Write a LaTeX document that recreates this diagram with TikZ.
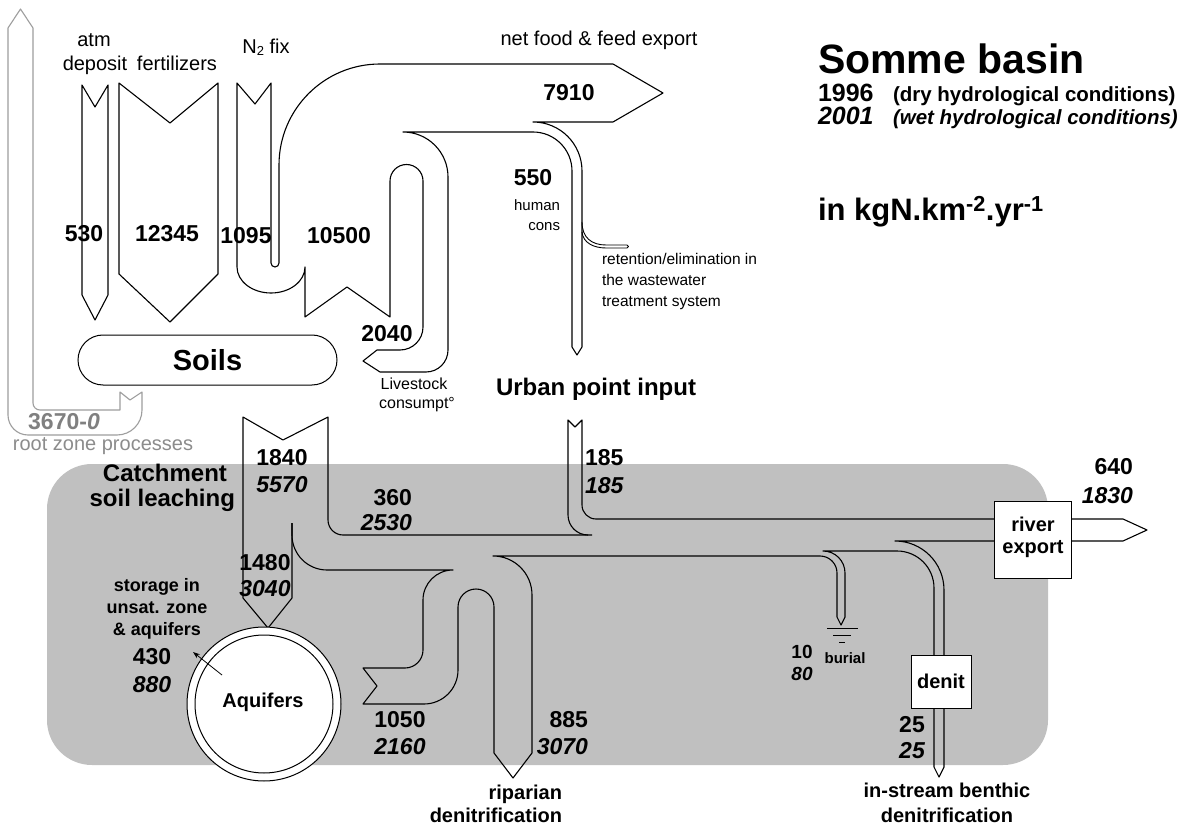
\documentclass[tikz,border=0pt]{standalone}
\usepackage{fontspec}
\setmainfont{Liberation Sans}
\usetikzlibrary{arrows.meta}
\newcommand\fs[1]{\fontsize{#1}{#1}\selectfont}
\definecolor{bggray}{HTML}{C0C0C0}
\begin{document}
\begin{tikzpicture}[x=1pt,y=-1pt,
 every node/.style={inner sep=0pt,outer sep=0pt},
 flow/.style={draw=black,line width=1.1pt,line join=round},
 gflow/.style={draw=black!38,line width=1.1pt,line join=round},
 num/.style={font=\fs{23}\bfseries},
 numi/.style={font=\fs{23}\bfseries\itshape},
 lab/.style={font=\fs{20}},
 blab/.style={font=\fs{20}\bfseries},
 whitebox/.style={draw=black,line width=1pt,fill=white}]
\useasboundingbox (0,0) rectangle (1194,826);
\fill[white] (0,0) rectangle (1194,826);
% catchment background
\fill[bggray,rounded corners=45pt] (47,464) rectangle (1048,765);

% root zone processes (grey)
\draw[gflow] (120,392) -- (130,400) -- (142,392) -- (142,410)
  arc[start angle=0,end angle=90,radius=25]
  -- (28,435) arc[start angle=90,end angle=180,radius=20]
  -- (8,28) -- (20.5,9) -- (33,28) -- (33,403)
  arc[start angle=180,end angle=90,radius=7]
  -- (120,410) -- cycle;

% atm deposit and fertilizers
\draw[flow] (82,85) -- (95,107) -- (108,85) -- (108,295) -- (95,320) -- (82,295) -- cycle;
\draw[flow] (119,83) -- (170,123) -- (218,83) -- (218,274) -- (170,322) -- (119,274) -- cycle;

% N2 fix, harvest, export, human consumption, livestock loop
\draw[flow] (237,83) -- (255,104) -- (271,83) -- (271,263)
  arc[start angle=180,end angle=0,radius=4]
  -- (279,165)
  arc[start angle=180,end angle=270,radius=101]
  -- (613,64) -- (663,93) -- (613,122) -- (533,122)
  arc[start angle=270,end angle=360,radius=49]
  -- (582,347) -- (577,355) -- (572,347) -- (572,171)
  arc[start angle=0,end angle=-90,radius=39]
  -- (403,132)
  arc[start angle=270,end angle=360,radius=45]
  -- (448,350)
  arc[start angle=0,end angle=90,radius=22]
  -- (380,372) -- (363,361) -- (377,350) -- (400,350)
  arc[start angle=90,end angle=0,radius=23]
  -- (423,181)
  arc[start angle=0,end angle=-180,radius=16.5]
  -- (390,317) -- (347,287) -- (305,317) -- (305,267)
  arc[start angle=0,end angle=180,x radius=34,y radius=26]
  -- cycle;

% retention in wastewater treatment
\draw[flow,line width=0.9pt] (582,222) .. controls (582,238) and (592,245) .. (606,245) -- (627,245)
  arc[start angle=-90,end angle=90,radius=1.5] -- (606,248) .. controls (594,248) and (583,243) .. (582,232);

% soil leaching: 1840 -> 1480 (aquifers) and 360 (river)
\draw[flow] (292,523) -- (292,598) -- (268,628) -- (243,598) -- (243,417) -- (283,440) -- (328,417) -- (328,520)
  arc[start angle=180,end angle=90,radius=15] -- (592,535);

% aquifer outflow, riparian loop, river bottom, burial, denit left edge
\draw[flow] (292,523) -- (292,535) arc[start angle=180,end angle=90,radius=35]
  -- (453,570) arc[start angle=270,end angle=180,radius=30]
  -- (423,650) arc[start angle=0,end angle=90,radius=18]
  -- (363,668) -- (377,686) -- (363,704) -- (424,704)
  arc[start angle=90,end angle=0,radius=34]
  -- (458,607) arc[start angle=180,end angle=360,radius=18]
  -- (494,753) -- (513,778) -- (532,753) -- (532,595)
  arc[start angle=0,end angle=-90,radius=39]
  -- (820,556) arc[start angle=270,end angle=360,radius=17]
  -- (837,617) -- (841,625) -- (845,617) -- (845,573)
  arc[start angle=0,end angle=-90,radius=22]
  -- (897,551) arc[start angle=270,end angle=360,radius=37]
  -- (934,655);
\draw[flow] (944,655) -- (944,590) arc[start angle=0,end angle=-90,radius=49] -- (994,541);
\draw[flow] (934,708) -- (934,767) -- (939,777) -- (944,767) -- (944,708);

% urban point input
\draw[flow] (588,535) arc[start angle=90,end angle=180,radius=20] -- (568,420) -- (575,427) -- (582,420) -- (582,505)
  arc[start angle=180,end angle=90,radius=14] -- (994,519);

% river export arrow
\draw[flow] (1071,519) -- (1123,519) -- (1147,530) -- (1123,541) -- (1071,541);

% burial ground symbol
\draw[line width=1pt] (827,628) -- (858,628) (833,635) -- (851,635) (839,642) -- (845,642);

% boxes
\node[draw,line width=1pt,rounded corners=25pt,minimum width=259pt,minimum height=50pt,font=\fs{29}\bfseries] (soils) at (207.5,360) {Soils};
\node[whitebox,minimum width=77pt,minimum height=77pt] (river) at (1032.5,539.5) {};
\node[blab,anchor=base] (rivt) at (1033,531) {river};
\node[blab,anchor=base] (expt) at (1033,553) {export};
\node[whitebox,minimum width=60pt,minimum height=53pt,font=\fs{20}\bfseries] (denit) at (941,681.5) {denit};

% aquifers
\node[circle,draw,line width=1pt,fill=white,minimum size=154pt] (aqo) at (264,704) {};
\node[circle,draw,line width=1pt,minimum size=138pt] (aqi) at (264,704) {};
\node[blab,anchor=base] (aqt) at (263,707) {Aquifers};
\coordinate (stor) at (193,652);
\coordinate (stfrom) at (222,675);
\draw[line width=0.8pt,-{Stealth[length=7pt,width=5pt]}] (stfrom) -- (stor);

% top labels
\node[lab,anchor=base] (atm) at (94,47) {atm};
\node[lab,anchor=base] (dep) at (95,71) {deposit};
\node[lab,anchor=base] (fert) at (177,71) {fertilizers};
\node[lab,anchor=base] (n2) at (266,54) {N\raisebox{-2pt}{\fs{13}2} fix};
\node[lab,anchor=base] (nff) at (599,46) {net food \& feed export};

\node[num] (v7910) at (569,93) {7910};
\node[num] (v530) at (84,234) {530};
\node[num] (v12345) at (167,234) {12345};
\node[num] (v1095) at (246,236) {1095};
\node[num] (v10500) at (339,236) {10500};
\node[num] (v2040) at (387,334) {2040};
\node[num] (v550) at (533,178) {550};
\node[font=\fs{15},anchor=base east] (hum) at (560,211) {human};
\node[font=\fs{15},anchor=base east] (cons) at (560,231) {cons};
\node[font=\fs{15.5},anchor=base west] (ret1) at (602,265) {retention/elimination in};
\node[font=\fs{15.5},anchor=base west] (ret2) at (602,286) {the wastewater};
\node[font=\fs{15.5},anchor=base west] (ret3) at (602,307) {treatment system};
\node[font=\fs{16},anchor=base] (liv1) at (414,389) {Livestock};
\node[font=\fs{16},anchor=base] (liv2) at (417,408) {consumpt°};
\node[font=\fs{24}\bfseries,anchor=base] (urb) at (596,395) {Urban point input};

\node[font=\fs{23}\bfseries,text=black!50] (rz) at (64,422) {3670-\textit{0}};
\node[lab,text=black!45,anchor=base] (rzt) at (103,450) {root zone processes};

% catchment
\node[font=\fs{24}\bfseries,anchor=base east] (cat1) at (227,481) {Catchment};
\node[font=\fs{24}\bfseries,anchor=base east] (cat2) at (235,506) {soil leaching};
\node[num] (v1840) at (282,458) {1840};
\node[numi] (w1840) at (282,485) {5570};
\node[num,anchor=east] (v360) at (412,498) {360};
\node[numi,anchor=east] (w360) at (412,523) {2530};
\node[num,anchor=west] (v185) at (585,458) {185};
\node[numi,anchor=west] (w185) at (585,486) {185};
\node[num,anchor=east] (v640) at (1133,467) {640};
\node[numi,anchor=east] (w640) at (1133,496) {1830};
\node[num] (v1480) at (265,563) {1480};
\node[numi] (w1480) at (265,589) {3040};
\node[font=\fs{18}\bfseries,anchor=base] (st1) at (157,591) {storage in};
\node[font=\fs{18}\bfseries,anchor=base] (st2) at (157,613) {unsat. zone};
\node[font=\fs{18}\bfseries,anchor=base] (st3) at (157,635) {\& aquifers};
\node[num] (v430) at (152,657) {430};
\node[numi] (w430) at (152,685) {880};
\node[num] (v1050) at (400,720) {1050};
\node[numi] (w1050) at (400,747) {2160};
\node[num,anchor=east] (v885) at (588,720) {885};
\node[numi,anchor=east] (w885) at (588,747) {3070};
\node[blab,anchor=base east] (rip1) at (562,799) {riparian};
\node[blab,anchor=base east] (rip2) at (562,822) {denitrification};
\node[font=\fs{19}\bfseries] (v10) at (802,652) {10};
\node[font=\fs{19}\bfseries\itshape] (w10) at (802,674) {80};
\node[font=\fs{15}\bfseries,anchor=base] (bur) at (845,663) {burial};
\node[num] (v25) at (912,725) {25};
\node[numi] (w25) at (912,751) {25};
\node[blab,anchor=base] (ins1) at (947,797) {in-stream benthic};
\node[blab,anchor=base] (ins2) at (947,822) {denitrification};

% title block
\node[font=\fs{41}\bfseries,anchor=base west] (title) at (818,74) {Somme basin};
\node[font=\fs{25}\bfseries,anchor=base west] (y96) at (818,102) {1996};
\node[font=\fs{20.5}\bfseries,anchor=base west] (c96) at (893,102) {(dry hydrological conditions)};
\node[font=\fs{25}\bfseries\itshape,anchor=base west] (y01) at (818,125) {2001};
\node[font=\fs{20.5}\bfseries\itshape,anchor=base west] (c01) at (893,125) {(wet hydrological conditions)};
\node[font=\fs{31}\bfseries,anchor=base west] (unit) at (818,221) {in kgN.km\textsuperscript{-2}.yr\textsuperscript{-1}};
\end{tikzpicture}
\end{document}
